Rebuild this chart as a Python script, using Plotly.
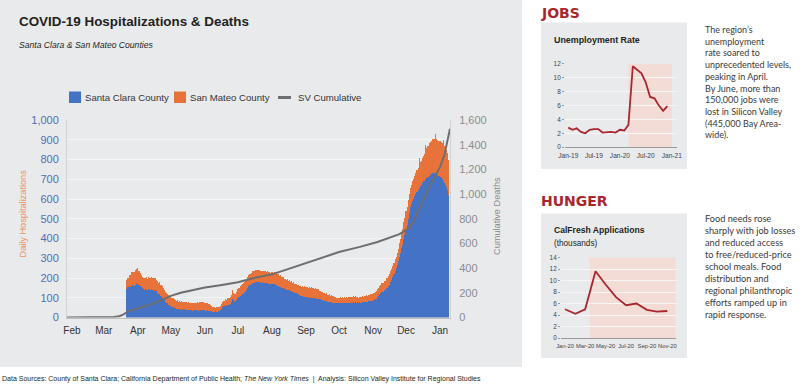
import plotly.graph_objects as go
import pandas as pd

W, H = 802, 384

# ---------------- DATA ----------------
hosp_start = "2020-03-22"
santa_clara = [
    146, 153, 159, 154, 161, 163, 157,
    161, 166, 171, 173, 167, 159, 152,
    147, 143, 139, 144, 141, 137, 142,
    141, 143, 138, 139, 135, 139, 132,
    126, 119, 117, 109, 101, 94, 88,
    81, 75, 71, 64, 61, 56, 55,
    52, 50, 46, 45, 44, 41, 42,
    40, 42, 39, 41, 38, 40, 37,
    38, 37, 36, 38, 35, 36, 36,
    37, 36, 35, 37, 38, 36, 38,
    37, 36, 34, 36, 33, 34, 31,
    31, 29, 30, 29, 31, 30, 32,
    33, 36, 44, 51, 56, 57, 61,
    59, 63, 64, 67, 77, 96, 87,
    81, 82, 89, 101, 104, 111, 114,
    119, 121, 129, 131, 141, 149, 161,
    164, 171, 174, 177, 177, 181, 180,
    181, 178, 181, 177, 178, 177, 176,
    176, 175, 175, 171, 172, 169, 171,
    168, 169, 165, 166, 162, 161, 155,
    154, 149, 149, 145, 144, 140, 141,
    137, 137, 133, 133, 129, 128, 123,
    123, 118, 117, 112, 111, 107, 109,
    105, 106, 103, 104, 101, 103, 100,
    101, 99, 100, 97, 98, 95, 96,
    92, 92, 88, 89, 85, 85, 82,
    83, 79, 80, 76, 77, 74, 75,
    72, 73, 71, 72, 71, 74, 71,
    72, 71, 74, 71, 72, 71, 74,
    73, 74, 73, 76, 73, 76, 75,
    76, 73, 76, 75, 78, 77, 79,
    78, 81, 80, 83, 82, 85, 84,
    87, 87, 93, 95, 103, 109, 119,
    123, 129, 131, 137, 139, 147, 149,
    159, 167, 179, 189, 206, 219, 236,
    249, 266, 284, 306, 329, 351, 369,
    396, 419, 446, 469, 501, 529, 561,
    574, 591, 599, 613, 624, 636, 644,
    656, 664, 673, 679, 689, 693, 701,
    705, 713, 717, 723, 725, 731, 730,
    731, 727, 727, 721, 719, 713, 711,
    699, 691, 679, 671, 659, 647, 618,
]
san_mateo = [
    42, 47, 56, 59, 67, 69, 73,
    69, 75, 77, 79, 71, 68, 61,
    58, 57, 61, 58, 62, 59, 63,
    61, 62, 63, 59, 63, 60, 58,
    58, 58, 61, 57, 57, 54, 53,
    49, 50, 47, 48, 45, 46, 44,
    45, 42, 44, 41, 43, 40, 41,
    39, 40, 39, 39, 38, 39, 37,
    39, 36, 39, 37, 38, 37, 39,
    37, 40, 37, 41, 40, 42, 39,
    40, 37, 38, 35, 36, 32, 31,
    26, 26, 21, 22, 19, 21, 20,
    22, 21, 25, 25, 29, 28, 31,
    31, 34, 33, 36, 37, 41, 37,
    36, 35, 41, 43, 46, 46, 51,
    49, 52, 51, 54, 53, 55, 54,
    56, 55, 59, 58, 61, 59, 61,
    59, 62, 59, 61, 60, 61, 59,
    60, 57, 58, 57, 58, 57, 60,
    58, 59, 57, 58, 56, 59, 57,
    59, 55, 56, 52, 53, 51, 53,
    50, 51, 49, 51, 48, 50, 47,
    49, 47, 50, 48, 51, 49, 51,
    49, 51, 49, 51, 50, 51, 49,
    51, 48, 51, 49, 50, 47, 48,
    43, 43, 41, 42, 39, 41, 38,
    41, 37, 38, 35, 36, 34, 35,
    32, 32, 29, 29, 27, 29, 27,
    30, 28, 31, 29, 32, 29, 32,
    30, 31, 29, 32, 30, 31, 29,
    29, 27, 29, 28, 30, 29, 31,
    29, 32, 30, 33, 32, 35, 33,
    36, 35, 38, 37, 41, 39, 42,
    41, 44, 43, 47, 47, 51, 49,
    53, 54, 57, 55, 57, 57, 61,
    59, 63, 64, 69, 69, 76, 79,
    86, 87, 91, 91, 96, 94, 97,
    97, 101, 101, 106, 109, 113, 115,
    150, 121, 121, 127, 127, 136, 170,
    151, 157, 166, 167, 171, 171, 175,
    174, 200, 176, 179, 177, 181, 179,
    183, 210, 189, 189, 191, 185, 181,
]
cum_dates = [
    "2020-01-27", "2020-02-15", "2020-03-01", "2020-03-10", "2020-03-15",
    "2020-03-19", "2020-03-23", "2020-03-28", "2020-04-03", "2020-04-15",
    "2020-04-25", "2020-05-01", "2020-05-10", "2020-05-20", "2020-06-01",
    "2020-06-15", "2020-07-01", "2020-07-15", "2020-08-01", "2020-08-08",
    "2020-08-25", "2020-09-12", "2020-10-01", "2020-10-20", "2020-11-05",
    "2020-11-25", "2020-12-03", "2020-12-08", "2020-12-14", "2020-12-20",
    "2020-12-26", "2021-01-01", "2021-01-05", "2021-01-10",
]
cum_deaths = [
    0, 0, 1, 4, 10,
    25, 50, 65, 78, 112,
    150, 175, 200, 222, 243,
    262, 285, 318, 350, 370,
    420, 475, 530, 572, 612,
    675, 720, 780, 900, 1020,
    1120, 1220, 1320, 1530,
]
month_ticks = ["2020-02-01", "2020-03-01", "2020-04-01", "2020-05-01", "2020-06-01",
               "2020-07-01", "2020-08-01", "2020-09-01", "2020-10-01", "2020-11-01",
               "2020-12-01", "2021-01-01"]
month_labels = ["Feb", "Mar", "Apr", "May", "Jun", "Jul", "Aug", "Sep", "Oct", "Nov", "Dec", "Jan"]
left_ticks = [0, 100, 200, 300, 400, 500, 600, 700, 800, 900, 1000]
right_ticks = [0, 200, 400, 600, 800, 1000, 1200, 1400, 1600]

unemp_start = "2019-01-01"
unemp_rate = [2.8, 2.5, 2.7, 2.2, 2.0, 2.5, 2.6, 2.6, 2.1, 2.2, 2.2, 2.1,
              2.5, 2.4, 3.2, 11.6, 11.1, 10.6, 9.3, 7.2, 7.0, 6.0, 5.2, 5.9]
unemp_ticks = ["2019-01-01", "2019-07-01", "2020-01-01", "2020-07-01", "2021-01-01"]
unemp_labels = ["Jan-19", "Jul-19", "Jan-20", "Jul-20", "Jan-21"]
unemp_shade = ["2020-03-01", "2021-01-01"]

calfresh_start = "2020-01-01"
calfresh_apps = [5.0, 4.2, 5.0, 11.6, 9.3, 7.1, 5.7, 6.0, 4.9, 4.6, 4.7]
calfresh_ticks = ["2020-01-01", "2020-03-01", "2020-05-01", "2020-07-01", "2020-09-01", "2020-11-01"]
calfresh_labels = ["Jan-20", "Mar-20", "May-20", "Jul-20", "Sep-20", "Nov-20"]
calfresh_shade = ["2020-03-15", "2020-11-26"]

# ---------------- STYLE ----------------
BLUE = "#4472C4"
ORANGE = "#E8733A"
GRAY_LINE = "#6E6E6E"
RED = "#A8262E"
PANEL = "#E9EAEC"
PINK = "#F3DBD6"
GRID = "#F6F6F6"
NARROW = "Liberation Sans, Arial, sans-serif"
BODY = "Lato, Noto Sans, sans-serif"


def fx(px):
    return px / W


def fy(py):
    return 1 - py / H


hosp_dates = pd.date_range(hosp_start, periods=len(santa_clara), freq="D")
unemp_dates = pd.date_range(unemp_start, periods=len(unemp_rate), freq="MS")
calfresh_dates = pd.date_range(calfresh_start, periods=len(calfresh_apps), freq="MS")

fig = go.Figure()
fig.add_trace(go.Bar(x=hosp_dates, y=santa_clara, name="Santa Clara County",
                     marker=dict(color=BLUE, line=dict(width=0)), xaxis="x", yaxis="y",
                     showlegend=False))
fig.add_trace(go.Bar(x=hosp_dates, y=san_mateo, name="San Mateo County",
                     marker=dict(color=ORANGE, line=dict(width=0)), xaxis="x", yaxis="y",
                     showlegend=False))
fig.add_trace(go.Scatter(x=pd.to_datetime(cum_dates), y=cum_deaths, name="SV Cumulative",
                         mode="lines", line=dict(color=GRAY_LINE, width=2),
                         xaxis="x", yaxis="y2", showlegend=False))
fig.add_trace(go.Scatter(x=unemp_dates, y=unemp_rate, mode="lines", name="Unemployment Rate",
                         line=dict(color=RED, width=1.8), xaxis="x3", yaxis="y3",
                         showlegend=False))
fig.add_trace(go.Scatter(x=calfresh_dates, y=calfresh_apps, mode="lines", name="CalFresh Applications",
                         line=dict(color=RED, width=1.8), xaxis="x4", yaxis="y4",
                         showlegend=False))

shapes = [
    dict(type="rect", xref="paper", yref="paper", x0=0, x1=fx(522), y0=fy(367), y1=1,
         fillcolor=PANEL, line=dict(width=0), layer="below"),
    dict(type="rect", xref="paper", yref="paper", x0=fx(541), x1=fx(687), y0=fy(169), y1=fy(22.5),
         fillcolor=PANEL, line=dict(width=0), layer="below"),
    dict(type="rect", xref="paper", yref="paper", x0=fx(541), x1=fx(687), y0=fy(358), y1=fy(213.5),
         fillcolor=PANEL, line=dict(width=0), layer="below"),
    dict(type="rect", xref="x3", yref="y3", x0=unemp_shade[0], x1=unemp_shade[1], y0=0, y1=12,
         fillcolor=PINK, line=dict(width=0), layer="below"),
    dict(type="rect", xref="x4", yref="y4", x0=calfresh_shade[0], x1=calfresh_shade[1], y0=0, y1=14,
         fillcolor=PINK, line=dict(width=0), layer="below"),
    # custom legend swatches
    dict(type="rect", xref="paper", yref="paper", x0=fx(69), x1=fx(81), y0=fy(103), y1=fy(91.5),
         fillcolor=BLUE, line=dict(width=0)),
    dict(type="rect", xref="paper", yref="paper", x0=fx(174), x1=fx(186), y0=fy(103), y1=fy(91.5),
         fillcolor=ORANGE, line=dict(width=0)),
    dict(type="line", xref="paper", yref="paper", x0=fx(278), x1=fx(291), y0=fy(97.5), y1=fy(97.5),
         line=dict(color=GRAY_LINE, width=3)),
]


def ann(text, x, y, size, color="#333333", family=NARROW, xanchor="left", yanchor="middle",
        angle=0, align="left", weight="normal", style="normal"):
    return dict(text=text, x=fx(x), y=fy(y), xref="paper", yref="paper", showarrow=False,
                xanchor=xanchor, yanchor=yanchor, textangle=angle, align=align,
                font=dict(size=size, color=color, family=family, weight=weight, style=style))


annotations = [
    ann("COVID-19 Hospitalizations &amp; Deaths", 17, 22, 13.4, "#231F20", weight="bold"),
    ann("Santa Clara &amp; San Mateo Counties", 17, 45, 8.6, "#231F20", style="italic"),
    ann("Santa Clara County", 82.5, 97, 9.6, "#333333"),
    ann("San Mateo County", 187.5, 97, 9.6, "#333333"),
    ann("SV Cumulative", 295.5, 97, 9.6, "#333333"),
    ann("Daily Hospitalizations", 22.5, 214, 9.2, "#EC9466", xanchor="center", angle=-90),
    ann("Cumulative Deaths", 497, 216, 9.2, "#8C8C8C", xanchor="center", angle=-90),
    ann("Data Sources: County of Santa Clara; California Department of Public Health; "
        "<i>The New York Times</i>  |  Analysis: Silicon Valley Institute for Regional Studies",
        0, 378.5, 7.0, "#231F20"),
    ann("JOBS", 539, 12.5, 14, RED, family="DejaVu Sans, sans-serif", weight="bold"),
    ann("HUNGER", 539, 200.5, 14, RED, family="DejaVu Sans, sans-serif", weight="bold"),
    ann("Unemployment Rate", 552, 39.5, 8.9, "#231F20", weight="bold"),
    ann("CalFresh Applications", 552, 230, 8.6, "#231F20", weight="bold"),
    ann("(thousands)", 552, 243.5, 8.2, "#231F20"),
    ann("The region’s<br>unemployment<br>rate soared to<br>unprecedented levels,<br>"
        "peaking in April.<br>By June, more than<br>150,000 jobs were<br>lost in Silicon Valley<br>"
        "(445,000 Bay Area-<br>wide).", 703, 82.2, 9, "#3A3A3A", family=BODY),
    ann("Food needs rose<br>sharply with job losses<br>and reduced access<br>to free/reduced-price<br>"
        "school meals. Food<br>distribution and<br>regional philanthropic<br>efforts ramped up in<br>"
        "rapid response.", 703, 266.7, 9.2, "#3A3A3A", family=BODY),
]

fig.update_layout(
    width=W, height=H, margin=dict(l=0, r=0, t=0, b=0, autoexpand=False),
    paper_bgcolor="white", plot_bgcolor="rgba(0,0,0,0)",
    barmode="stack", bargap=0, showlegend=False, hovermode=False,
    shapes=shapes, annotations=annotations,
    xaxis=dict(domain=[fx(67), fx(450)], type="date", automargin=False,
               range=["2020-01-27 12:00", "2021-01-10"],
               tickvals=month_ticks, ticktext=month_labels, ticks="", tickangle=0,
               tickfont=dict(family=NARROW, size=10, color="#333333"),
               showgrid=False, showline=True, linecolor="#BFBFBF", linewidth=1,
               zeroline=False, anchor="y", ticklabelstandoff=3),
    yaxis=dict(domain=[fy(317.5), fy(120)], range=[0, 1000], tickvals=left_ticks, automargin=False,
               tickformat=",d", ticks="", showgrid=True, gridcolor=GRID, gridwidth=1,
               tickfont=dict(family=NARROW, size=11, color="#4F6FB3"),
               showline=True, linecolor="#D2D2D2", zeroline=False, anchor="x",
               ticklabelstandoff=5),
    yaxis2=dict(range=[0, 1600], tickvals=right_ticks, tickformat=",d", overlaying="y",
                side="right", anchor="x", showgrid=False, ticks="", automargin=False,
                tickfont=dict(family=NARROW, size=11, color="#8C8C8C"),
                showline=True, linecolor="#D2D2D2", zeroline=False, ticklabelstandoff=6),
    xaxis3=dict(domain=[fx(565), fx(677)], type="date", range=["2018-12-09", "2021-02-07"],
                tickvals=unemp_ticks, ticktext=unemp_labels, ticks="", tickangle=0, automargin=False,
                tickfont=dict(family=NARROW, size=6.6, color="#444444"),
                showgrid=False, showline=True, linecolor="#9A9A9A", zeroline=False,
                anchor="y3", ticklabelstandoff=2),
    yaxis3=dict(domain=[fy(147.2), fy(63.5)], range=[0, 12], tickvals=[0, 2, 4, 6, 8, 10, 12],
                ticksuffix="%", ticks="outside", ticklen=2, tickcolor="#9A9A9A", automargin=False,
                showgrid=True, gridcolor=GRID, zeroline=False,
                tickfont=dict(family=NARROW, size=6.4, color="#444444"),
                anchor="x3", ticklabelstandoff=0),
    xaxis4=dict(domain=[fx(561), fx(675.7)], type="date", range=["2019-12-20", "2020-11-26"],
                tickvals=calfresh_ticks, ticktext=calfresh_labels, ticks="", tickangle=0,
                automargin=False,
                tickfont=dict(family=NARROW, size=5.8, color="#444444"),
                showgrid=False, showline=True, linecolor="#9A9A9A", zeroline=False,
                anchor="y4", ticklabelstandoff=2),
    yaxis4=dict(domain=[fy(338), fy(257.5)], range=[0, 14], tickvals=[0, 2, 4, 6, 8, 10, 12, 14],
                ticks="outside", ticklen=2, tickcolor="#9A9A9A", automargin=False,
                showgrid=True, gridcolor=GRID, zeroline=False,
                tickfont=dict(family=NARROW, size=6.4, color="#444444"),
                anchor="x4", ticklabelstandoff=0),
)

# remove the browser's default page margin so the figure sits at the window's top-left corner
fig.write_html("out.html",
               config={"displayModeBar": False, "staticPlot": True},
               post_script="document.body.style.margin='0px'; document.body.style.overflow='hidden';")
